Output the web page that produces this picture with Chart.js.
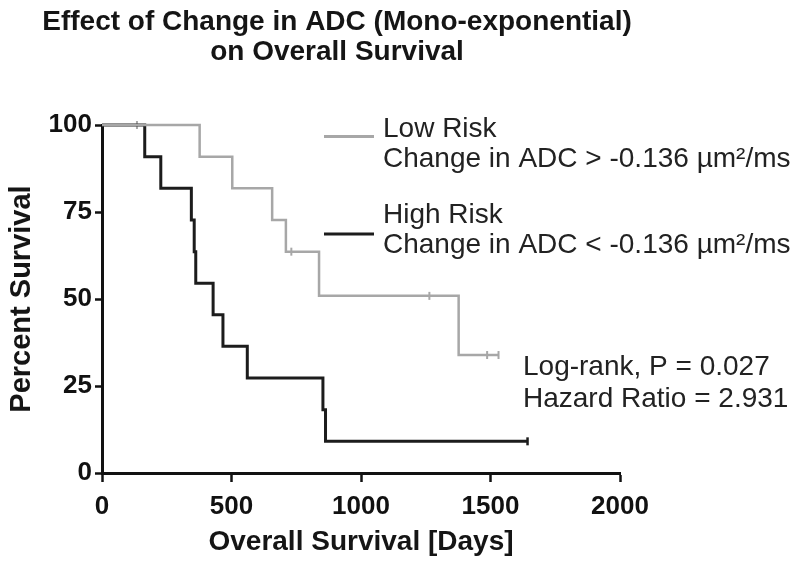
<!DOCTYPE html>
<html>
<head>
<meta charset="utf-8">
<script src="https://cdn.jsdelivr.net/npm/chart.js@4.4.1/dist/chart.umd.min.js"></script>
<style>
  html, body { margin: 0; padding: 0; background: #fff; }
</style>
</head>
<body>
<canvas id="km" width="800" height="568"></canvas>
<script>
// Kaplan-Meier steps (days, percent surviving)
const lowDays = [0, 377, 503, 657, 710, 838, 1377, 1531];
const lowPct = [100, 90.9, 81.8, 72.7, 63.6, 50.9, 33.9, 33.9];
const highDays = [0, 165, 227, 345, 356, 362, 429, 467, 561, 853, 863, 1643];
const highPct = [100, 90.9, 81.8, 72.7, 63.6, 54.5, 45.5, 36.4, 27.3, 18.2, 9.1, 9.1];

// censored observations
const lowCensorDays = [135, 731, 1264, 1487, 1531];
const lowCensorPct = [100, 63.6, 50.9, 33.9, 33.9];
const highCensorDays = [1643];
const highCensorPct = [9.1];

const xTicks = [0, 500, 1000, 1500, 2000];
const yTicks = [0, 25, 50, 75, 100];

const titleLines = ['Effect of Change in ADC (Mono-exponential)', 'on Overall Survival'];
const groupNames = ['Low Risk', 'High Risk'];
const groupRules = ['Change in ADC > -0.136 \u00b5m\u00b2/ms', 'Change in ADC < -0.136 \u00b5m\u00b2/ms'];
const statLines = ['Log-rank, P = 0.027', 'Hazard Ratio = 2.931'];

const GRAY = '#a7a7a7';
const BLACK = '#1c1c1c';
const FONT = '"Liberation Sans", Arial, Helvetica, sans-serif';

const toPoints = (xs, ys) => xs.map((x, i) => ({ x, y: ys[i] }));

const textLayer = {
  id: 'textLayer',
  afterDraw(chart) {
    const ctx = chart.ctx;
    ctx.save();

    // title
    ctx.fillStyle = '#151515';
    ctx.font = 'bold 28px ' + FONT;
    ctx.textAlign = 'center';
    ctx.textBaseline = 'alphabetic';
    ctx.fillText(titleLines[0], 337, 30);
    ctx.fillText(titleLines[1], 337, 60);

    // legend
    const colors = [GRAY, BLACK];
    const lineY = [136.5, 234];
    const nameY = [137, 223];
    ctx.textAlign = 'left';
    ctx.font = '28px ' + FONT;
    groupNames.forEach((name, i) => {
      ctx.strokeStyle = colors[i];
      ctx.lineWidth = 3;
      ctx.beginPath();
      ctx.moveTo(324, lineY[i]);
      ctx.lineTo(374, lineY[i]);
      ctx.stroke();
      ctx.fillStyle = '#222';
      ctx.fillText(name, 383, nameY[i]);
      ctx.fillText(groupRules[i], 383, nameY[i] + 30);
    });

    // statistics
    ctx.fillText(statLines[0], 523, 375);
    ctx.fillText(statLines[1], 523, 407);
    ctx.restore();
  }
};

new Chart(document.getElementById('km'), {
  type: 'line',
  data: {
    datasets: [
      {
        label: groupNames[0],
        data: toPoints(lowDays, lowPct),
        borderColor: GRAY,
        borderWidth: 2.5,
        stepped: true,
        pointRadius: 0,
        fill: false,
        clip: false
      },
      {
        label: groupNames[1],
        data: toPoints(highDays, highPct),
        borderColor: BLACK,
        borderWidth: 3,
        stepped: true,
        pointRadius: 0,
        fill: false,
        clip: false
      },
      {
        label: 'censored low',
        data: toPoints(lowCensorDays, lowCensorPct),
        showLine: false,
        pointStyle: 'line',
        rotation: 90,
        pointRadius: 4,
        pointBorderWidth: 2,
        pointBorderColor: GRAY,
        clip: false
      },
      {
        label: 'censored high',
        data: toPoints(highCensorDays, highCensorPct),
        showLine: false,
        pointStyle: 'line',
        rotation: 90,
        pointRadius: 4,
        pointBorderWidth: 2.5,
        pointBorderColor: BLACK,
        clip: false
      }
    ]
  },
  options: {
    responsive: false,
    animation: false,
    layout: { padding: { top: 125, right: 180, bottom: 0, left: 0 } },
    plugins: {
      legend: { display: false },
      tooltip: { enabled: false },
      title: { display: false }
    },
    scales: {
      x: {
        type: 'linear',
        min: 0,
        max: 2000,
        afterBuildTicks: (scale) => { scale.ticks = xTicks.map(v => ({ value: v })); },
        afterFit: (scale) => { scale.height = 95; },
        border: { color: '#111', width: 3 },
        grid: { drawOnChartArea: false, drawTicks: true, tickLength: 9, tickWidth: 2.5, tickColor: '#111' },
        ticks: {
          color: '#111',
          padding: 9,
          maxRotation: 0,
          callback: (v) => String(v),
          font: { family: FONT, size: 26, weight: 'bold' }
        },
        title: {
          display: true,
          text: 'Overall Survival [Days]',
          color: '#151515',
          padding: { top: 0, bottom: 9 },
          font: { family: FONT, size: 28, weight: 'bold' }
        }
      },
      y: {
        min: 0,
        max: 100,
        afterBuildTicks: (scale) => { scale.ticks = yTicks.map(v => ({ value: v })); },
        afterFit: (scale) => { scale.width = 102; },
        border: { color: '#111', width: 3 },
        grid: { drawOnChartArea: false, drawTicks: true, tickLength: 7, tickWidth: 2.5, tickColor: '#111' },
        ticks: {
          color: '#111',
          padding: 3,
          callback: (v) => String(v),
          font: { family: FONT, size: 26, weight: 'bold' }
        },
        title: {
          display: true,
          text: 'Percent Survival',
          color: '#151515',
          padding: { top: 5, bottom: 0 },
          font: { family: FONT, size: 29, weight: 'bold' }
        }
      }
    }
  },
  plugins: [textLayer]
});
</script>
</body>
</html>
